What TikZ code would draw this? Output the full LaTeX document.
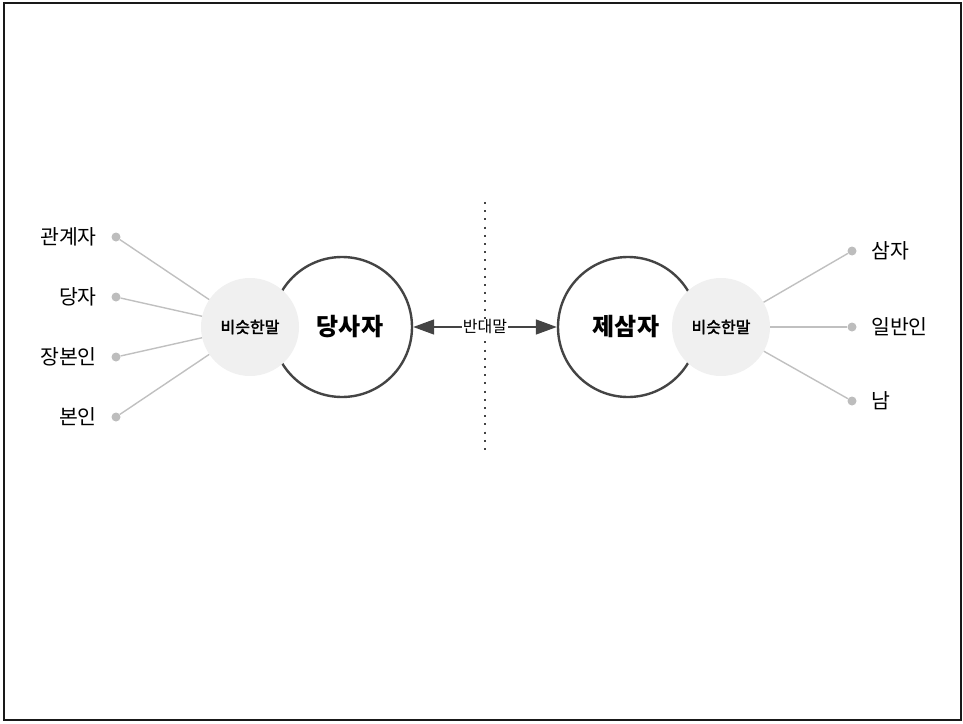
\documentclass[tikz,border=0pt]{standalone}
\usepackage{fontspec}
\setmainfont{Noto Sans CJK KR}
\newfontfamily\krmid[FakeBold=2.2]{Noto Sans CJK KR}
\usepackage{tikz}
\usetikzlibrary{arrows.meta,positioning}
\definecolor{ringgray}{RGB}{68, 68, 68}
\definecolor{synfill}{RGB}{240, 240, 240}
\definecolor{leafgray}{RGB}{192, 192, 192}
\definecolor{dotgray}{RGB}{189, 189, 189}

\begin{document}
\begin{tikzpicture}[x=1pt, y=-1pt,
  frame/.style={draw=black!90, line width=2pt},
  bigring/.style={draw=ringgray, circle, fill=white, line width=2.4pt, minimum size=140pt, inner sep=0pt},
  bigword/.style={font=\fontsize{24}{24}\selectfont\bfseries, inner sep=0pt},
  syncircle/.style={circle, fill=synfill, minimum size=98pt, inner sep=0pt, font=\fontsize{16}{16}\selectfont\krmid},
  leafdot/.style={circle, fill=dotgray, minimum size=9pt, inner sep=0pt},
  leafword/.style={font=\fontsize{20.5}{20.5}\selectfont, inner sep=0pt},
  leafline/.style={draw=leafgray, line width=1.4pt},
  opposite/.style={{Triangle[length=21pt, width=15pt]}-{Triangle[length=21pt, width=15pt]}, draw=ringgray, line width=1.5pt},
  divider/.style={draw=ringgray, line width=2.4pt, dash pattern=on 2pt off 6.2pt}
]

\useasboundingbox (0,0) rectangle (963,723);
\draw[frame] (4,3) rectangle (961,720);

% Left side
\node[leafdot] (d1) at (116,237) {};
\node[leafdot] (d2) at (116,297) {};
\node[leafdot] (d3) at (116,357) {};
\node[leafdot] (d4) at (116,417) {};
\node[leafword, anchor=east] (w1) at (97,237) {관계자};
\node[leafword, anchor=east] (w2) at (97,297) {당자};
\node[leafword, anchor=east] (w3) at (97,357) {장본인};
\node[leafword, anchor=east] (w4) at (97,417) {본인};

% Right side
\node[leafdot] (e1) at (852,251) {};
\node[leafdot] (e2) at (852,327) {};
\node[leafdot] (e3) at (852,401) {};
\node[leafword, anchor=west] (v1) at (871,251) {삼자};
\node[leafword, anchor=west] (v2) at (871,327) {일반인};
\node[leafword, anchor=west] (v3) at (871,401) {남};

% Words and rings
\node[bigring] (party) at (342,327) {};
\node[bigring] (third) at (628,327) {};
\node[syncircle] (synleft) at (250,327) {비슷한말};
\node[syncircle] (synright) at (721,327) {비슷한말};
\node[bigword] (partyword) at (350,327) {당사자};
\node[bigword] (thirdword) at (626,327) {제삼자};

% Divider
\coordinate (divtop) at (485,202);
\coordinate (divbot) at (485,450);
\draw[divider] (divtop) -- (divbot);

% Connections
\foreach \d in {d1,d2,d3,d4}
  \draw[leafline] (\d) -- (synleft);
\foreach \e in {e1,e2,e3}
  \draw[leafline] (\e) -- (synright);
\draw[opposite] (party) -- node[fill=white, inner sep=1pt, font=\fontsize{16}{16}\selectfont] {반대말} (third);
\end{tikzpicture}
\end{document}
